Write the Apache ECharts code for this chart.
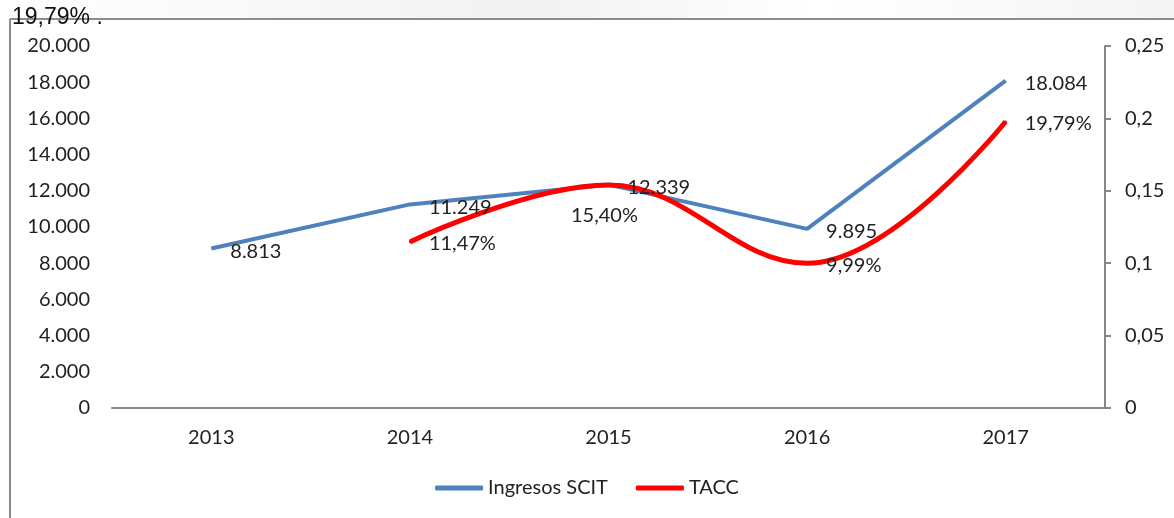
<!DOCTYPE html>
<html lang="es">
<head>
<meta charset="UTF-8">
<title>Ingresos SCIT y TACC</title>
<script src="https://cdn.jsdelivr.net/npm/echarts@6/dist/echarts.min.js"></script>
<style>
  html, body { margin: 0; padding: 0; background: #fff; }
  #main { width: 1174px; height: 518px; }
</style>
</head>
<body>
<div id="main"></div>
<script>
  // datos
  var years = ['2013', '2014', '2015', '2016', '2017'];
  var ingresos = [8813, 11249, 12339, 9895, 18084];
  var tacc = [null, 0.1147, 0.1540, 0.0999, 0.1979];

  function miles(v) {
    return String(v).replace(/\B(?=(\d{3})+(?!\d))/g, '.');
  }
  function coma(v) {
    return String(+v.toFixed(2)).replace('.', ',');
  }

  // la etiqueta de 2015 va debajo del punto
  var taccData = tacc.map(function (v, i) {
    if (i === 2) return { value: v, label: { position: 'bottom', distance: 20, offset: [-4, 0] } };
    return v;
  });

  var font = 'Lato, "Open Sans", sans-serif';
  var chart = echarts.init(document.getElementById('main'));

  var option = {
    backgroundColor: '#fff',
    animation: false,
    textStyle: { fontFamily: font },
    graphic: [
      { type: 'rect', shape: { x: 0, y: 0, width: 1174, height: 19 },
        style: { fill: new echarts.graphic.LinearGradient(0, 0, 1, 0, [
          { offset: 0, color: '#ffffff' }, { offset: 0.45, color: '#f2f2f2' },
          { offset: 0.7, color: '#ffffff' }, { offset: 1, color: '#f4f4f4' }]) }, z: 0 },
      { type: 'line', shape: { x1: 10, y1: 19, x2: 1174, y2: 19 },
        style: { stroke: '#8c8c8c', lineWidth: 2 }, z: 1 },
      { type: 'line', shape: { x1: 10, y1: 19, x2: 10, y2: 518 },
        style: { stroke: '#8c8c8c', lineWidth: 2 }, z: 1 },
      { type: 'text', left: 12, top: 6, z: 2,
        style: { text: '19,79% .', fill: '#111',
          font: '23px "Liberation Sans Narrow", "Liberation Sans", Arial, sans-serif' } }
    ],
    legend: {
      bottom: 15,
      left: 'center',
      itemWidth: 48,
      itemHeight: 5,
      itemGap: 28,
      itemTextGap: 4,
      icon: 'roundRect',
      textStyle: { fontFamily: font, fontSize: 20, color: '#222' },
      data: ['Ingresos SCIT', 'TACC']
    },
    grid: { left: 112, right: 69, top: 46, bottom: 110 },
    xAxis: {
      type: 'category',
      data: years,
      boundaryGap: true,
      axisLine: { lineStyle: { color: '#868686', width: 2 } },
      axisTick: { show: false },
      axisLabel: { color: '#222', fontSize: 20, margin: 20, fontFamily: font }
    },
    yAxis: [
      {
        type: 'value', min: 0, max: 20000, interval: 2000,
        splitLine: { show: false },
        axisLine: { show: false },
        axisTick: { show: false },
        axisLabel: { color: '#222', fontSize: 20, margin: 22, fontFamily: font, formatter: miles }
      },
      {
        type: 'value', min: 0, max: 0.25, interval: 0.05, position: 'right',
        splitLine: { show: false },
        axisLine: { show: true, lineStyle: { color: '#868686', width: 2 } },
        axisTick: { show: true, length: 6, lineStyle: { color: '#868686', width: 2 } },
        axisLabel: { color: '#222', fontSize: 20, margin: 20, fontFamily: font, formatter: coma }
      }
    ],
    series: [
      {
        name: 'Ingresos SCIT',
        type: 'line',
        data: ingresos,
        yAxisIndex: 0,
        symbol: 'none',
        lineStyle: { color: '#4F81BD', width: 4 },
        itemStyle: { color: '#4F81BD' },
        z: 2
      },
      {
        name: 'TACC',
        type: 'line',
        data: taccData,
        yAxisIndex: 1,
        smooth: 0.4,
        symbol: 'circle',
        symbolSize: 2,
        showSymbol: true,
        lineStyle: { color: '#FF0000', width: 5 },
        itemStyle: { color: '#FF0000' },
        z: 3,
        label: {
          show: true, position: 'right', distance: 18, offset: [0, 2],
          color: '#222', fontSize: 20, fontFamily: font,
          formatter: function (p) { return (p.value * 100).toFixed(2).replace('.', ',') + '%'; }
        }
      },
      {
        // etiquetas de Ingresos SCIT por encima de la curva roja
        name: 'etiquetas',
        type: 'line',
        data: ingresos,
        yAxisIndex: 0,
        symbol: 'circle',
        symbolSize: 2,
        showSymbol: true,
        silent: true,
        lineStyle: { width: 0, opacity: 0 },
        itemStyle: { color: 'transparent' },
        z: 5,
        label: {
          show: true, position: 'right', distance: 18, offset: [0, 3],
          color: '#222', fontSize: 20, fontFamily: font,
          formatter: function (p) { return miles(p.value); }
        }
      }
    ]
  };

  chart.setOption(option);
</script>
</body>
</html>
